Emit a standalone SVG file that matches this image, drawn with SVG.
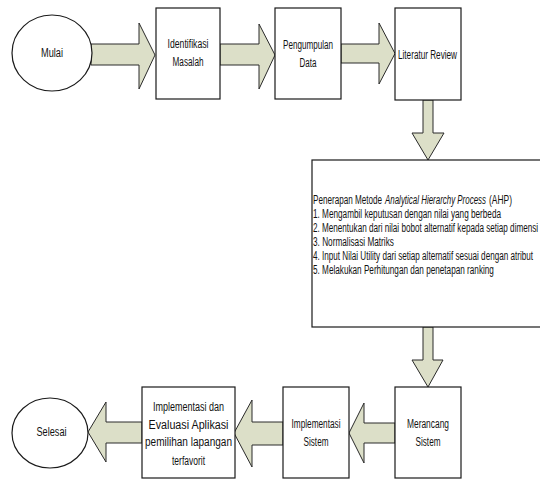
<svg xmlns="http://www.w3.org/2000/svg" width="540" height="479" viewBox="0 0 540 479">
<style>
.box{fill:#ffffff;stroke:#1a1a1a;stroke-width:1.2}
.arr{fill:#dcdfc8;stroke:#2a2a2a;stroke-width:1}
text{font-family:"Liberation Sans",Arial,sans-serif;font-size:12px;fill:#111}
.c{text-anchor:middle}
.i{font-style:italic}
</style>
<rect width="540" height="479" fill="#ffffff"/>
<g id="connectors">
<polygon class="arr" points="91,44 139,44 139,23 155,55 139,89 139,65 91,65"/>
<polygon class="arr" points="220,44 259,44 259,24 275,55 259,89 259,65 220,65"/>
<polygon class="arr" points="341,44 379,44 379,23 395,53.5 379,84 379,63 341,63"/>
<polygon class="arr" points="423,100 433,100 433,133 444,133 428,160 412,133 423,133"/>
<polygon class="arr" points="423,327 433,327 433,360 443,360 428,387 412,360 423,360"/>
<polygon class="arr" points="395,423 364,423 364,403 349,433 364,463 364,443 395,443"/>
<polygon class="arr" points="283,422 252,422 252,400 234,433 252,467 252,445 283,445"/>
<polygon class="arr" points="142,422 106,422 106,402 88,432 106,462 106,443 142,443"/>
</g>
<g id="mulai">
<ellipse class="box" cx="52" cy="53" rx="40" ry="38"/>
<text class="c" x="52" y="57" textLength="22" lengthAdjust="spacingAndGlyphs">Mulai</text>
</g>
<g id="identifikasi">
<rect class="box" x="156" y="8" width="64" height="91"/>
<text class="c" x="188" y="48" textLength="41" lengthAdjust="spacingAndGlyphs">Identifikasi</text>
<text class="c" x="188" y="66" textLength="31" lengthAdjust="spacingAndGlyphs">Masalah</text>
</g>
<g id="pengumpulan">
<rect class="box" x="275" y="8" width="66" height="91"/>
<text class="c" x="308" y="49" textLength="50" lengthAdjust="spacingAndGlyphs">Pengumpulan</text>
<text class="c" x="308" y="67" textLength="17" lengthAdjust="spacingAndGlyphs">Data</text>
</g>
<g id="literatur">
<rect class="box" x="395" y="8" width="66" height="92"/>
<text class="c" x="427.5" y="59" textLength="59" lengthAdjust="spacingAndGlyphs">Literatur Review</text>
</g>
<g id="ahp">
<rect class="box" x="312" y="160" width="232" height="167"/>
<g transform="translate(313,0) scale(0.68,1)">
<text x="0" y="204" textLength="101.5" lengthAdjust="spacingAndGlyphs">Penerapan Metode</text>
<text class="i" x="105.9" y="204" textLength="148.5" lengthAdjust="spacingAndGlyphs">Analytical Hierarchy Process</text>
<text x="258.8" y="204" textLength="33.8" lengthAdjust="spacingAndGlyphs">(AHP)</text>
<text x="0" y="218" textLength="276.5" lengthAdjust="spacingAndGlyphs">1. Mengambil keputusan dengan nilai yang berbeda</text>
<text x="0" y="232" textLength="331" lengthAdjust="spacingAndGlyphs">2. Menentukan dari nilai bobot alternatif kepada setiap dimensi</text>
<text x="0" y="246" textLength="119" lengthAdjust="spacingAndGlyphs">3. Normalisasi Matriks</text>
<text x="0" y="260" textLength="323.5" lengthAdjust="spacingAndGlyphs">4. Input Nilai Utility dari setiap alternatif sesuai dengan atribut</text>
<text x="0" y="274" textLength="266" lengthAdjust="spacingAndGlyphs">5. Melakukan Perhitungan dan penetapan ranking</text>
</g>
</g>
<g id="merancang">
<rect class="box" x="395" y="387" width="66" height="91"/>
<text class="c" x="428" y="428" textLength="42" lengthAdjust="spacingAndGlyphs">Merancang</text>
<text class="c" x="428" y="446" textLength="25" lengthAdjust="spacingAndGlyphs">Sistem</text>
</g>
<g id="implementasi">
<rect class="box" x="283" y="387" width="66" height="91"/>
<text class="c" x="316" y="428" textLength="49" lengthAdjust="spacingAndGlyphs">Implementasi</text>
<text class="c" x="316" y="446" textLength="25" lengthAdjust="spacingAndGlyphs">Sistem</text>
</g>
<g id="evaluasi">
<rect class="box" x="142" y="387" width="93" height="91"/>
<text class="c" x="188.5" y="411" textLength="71" lengthAdjust="spacingAndGlyphs">Implementasi dan</text>
<text class="c" x="188.5" y="429" textLength="80" lengthAdjust="spacingAndGlyphs">Evaluasi Aplikasi</text>
<text class="c" x="188.5" y="446" textLength="87" lengthAdjust="spacingAndGlyphs">pemilihan lapangan</text>
<text class="c" x="188.5" y="465" textLength="33" lengthAdjust="spacingAndGlyphs">terfavorit</text>
</g>
<g id="selesai">
<ellipse class="box" cx="50" cy="433" rx="38" ry="35"/>
<text class="c" x="51.5" y="436" textLength="30" lengthAdjust="spacingAndGlyphs">Selesai</text>
</g>
</svg>
